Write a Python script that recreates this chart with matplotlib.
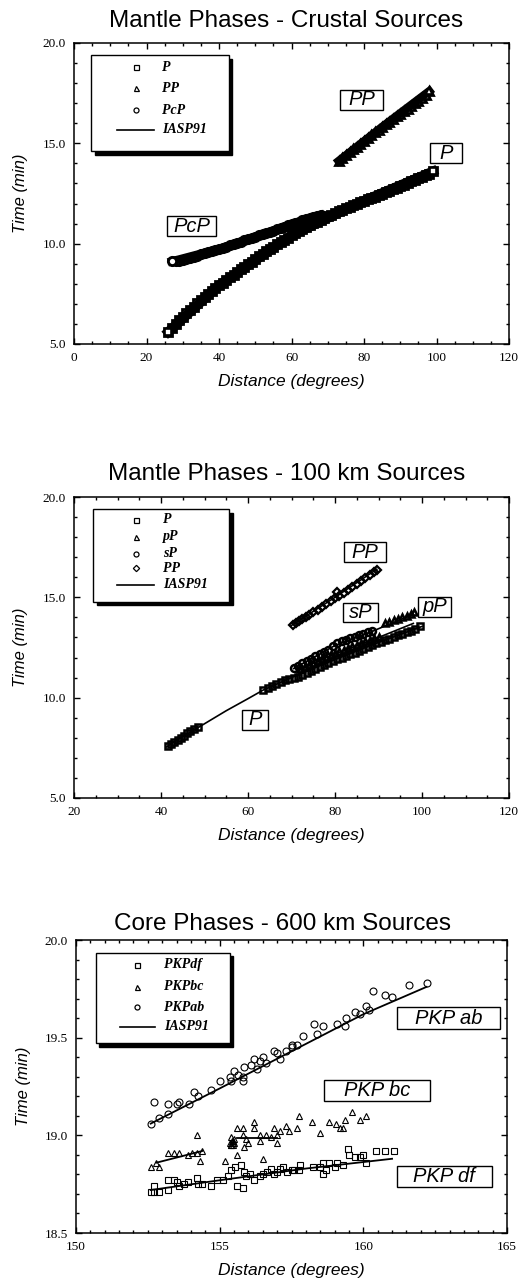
import matplotlib
matplotlib.use("Agg")
import matplotlib.pyplot as plt
import matplotlib.transforms as mtransforms
from matplotlib.patches import Rectangle
from matplotlib.path import Path
from matplotlib.ticker import MultipleLocator, FormatStrFormatter

# ---------------- Data ----------------
# Panel 1: Mantle phases - crustal sources
p1_P_x = list(range(26, 100))
p1_P_y = [5.60, 5.80, 6.00, 6.18, 6.35, 6.53, 6.70, 6.86, 7.02, 7.17,
          7.32, 7.47, 7.62, 7.77, 7.92, 8.06, 8.20, 8.33, 8.46, 8.59,
          8.72, 8.85, 8.98, 9.11, 9.25, 9.37, 9.49, 9.61, 9.73, 9.85,
          9.97, 10.08, 10.19, 10.30, 10.41, 10.51, 10.61, 10.71, 10.81, 10.91,
          11.01, 11.10, 11.19, 11.28, 11.37, 11.45, 11.53, 11.61, 11.69, 11.77,
          11.85, 11.93, 12.00, 12.07, 12.14, 12.21, 12.28, 12.35, 12.42, 12.49,
          12.56, 12.63, 12.70, 12.78, 12.86, 12.94, 13.02, 13.10, 13.17, 13.25,
          13.32, 13.40, 13.48, 13.62]
p1_PcP_x = list(range(27, 69))
p1_PcP_y = [9.12, 9.13, 9.15, 9.18, 9.23, 9.29, 9.35, 9.41, 9.47, 9.53,
            9.58, 9.63, 9.69, 9.74, 9.80, 9.85, 9.91, 9.97, 10.04, 10.10,
            10.16, 10.22, 10.29, 10.35, 10.41, 10.47, 10.53, 10.59, 10.65, 10.71,
            10.78, 10.84, 10.91, 10.97, 11.04, 11.10, 11.16, 11.22, 11.28, 11.33,
            11.38, 11.43]
p1_PP_x = list(range(73, 99))
p1_PP_y = [14.12, 14.27, 14.42, 14.56, 14.70, 14.84, 14.98, 15.12, 15.26, 15.40,
           15.54, 15.68, 15.82, 15.95, 16.08, 16.21, 16.34, 16.47, 16.60, 16.73,
           16.86, 16.99, 17.12, 17.25, 17.40, 17.60]
p1_iasp_P_x = [26, 40, 60, 80, 99]
p1_iasp_P_y = [5.60, 7.92, 10.41, 12.14, 13.60]
p1_iasp_PcP_x = [27, 40, 55, 68]
p1_iasp_PcP_y = [9.12, 9.74, 10.65, 11.43]
p1_iasp_PP_x = [73, 85, 98]
p1_iasp_PP_y = [14.12, 15.82, 17.60]
p1_labels = ["P", "PP", "PcP", "IASP91"]

# Panel 2: Mantle phases - 100 km sources
p2_P_x = [41.5, 42.3, 43.0, 43.8, 44.5, 45.2, 46.0, 46.7, 47.5, 48.6,
          63.5, 64.5, 65.5, 66.5, 67.5, 68.5, 69.5, 70.5, 71.5, 72.5,
          73.5, 74.5, 75.5, 76.5, 77.5, 78.5, 79.5, 80.5, 81.5, 82.5,
          83.5, 84.5, 85.5, 86.5, 87.5, 88.5, 89.5, 90.5, 91.5, 92.5,
          93.5, 94.5, 95.5, 96.5, 97.5, 98.5, 99.5]
p2_P_y = [7.58, 7.70, 7.80, 7.90, 8.00, 8.10, 8.22, 8.35, 8.42, 8.52,
          10.38, 10.48, 10.58, 10.68, 10.78, 10.86, 10.93, 11.00, 11.05, 11.14,
          11.24, 11.34, 11.43, 11.52, 11.62, 11.72, 11.82, 11.92, 12.00, 12.08,
          12.16, 12.25, 12.34, 12.44, 12.54, 12.62, 12.70, 12.78, 12.86, 12.94,
          13.02, 13.10, 13.18, 13.26, 13.34, 13.44, 13.55]
p2_pP_x = [72, 73, 74, 75, 76, 77, 78, 79, 80, 81, 82, 83, 84, 85, 86, 87, 88,
           89, 90, 91.5, 92.5, 93.5, 94.5, 95.5, 96.5, 97.5, 98.2]
p2_pP_y = [11.45, 11.55, 11.65, 11.75, 11.85, 11.95, 12.05, 12.14, 12.23, 12.32,
           12.40, 12.48, 12.56, 12.64, 12.72, 12.80, 12.88, 12.96, 13.04,
           13.70, 13.78, 13.86, 13.94, 14.00, 14.08, 14.15, 14.25]
p2_sP_x = [70.5, 71.5, 72.5, 73.5, 74.5, 75.5, 76.5, 77.5, 78.5, 79.5,
           80.5, 81.5, 82.5, 83.5, 84.5, 85.5, 86.5, 87.5, 88.5]
p2_sP_y = [11.50, 11.60, 11.72, 11.84, 11.95, 12.06, 12.17, 12.28, 12.40, 12.55,
           12.72, 12.80, 12.88, 12.96, 13.04, 13.10, 13.17, 13.26, 13.34]
p2_PP_x = [70.3, 71.0, 71.8, 72.5, 73.3, 74.0, 75.0, 76.0, 77.0, 78.0, 79.0,
           80.0, 80.5, 81.0, 82.0, 83.0, 84.0, 85.0, 86.0, 87.0, 88.0, 89.0, 89.6]
p2_PP_y = [13.62, 13.72, 13.82, 13.90, 14.00, 14.12, 14.27, 14.38, 14.52, 14.65,
           14.80, 14.95, 15.25, 15.08, 15.22, 15.38, 15.52, 15.65, 15.80, 15.95,
           16.10, 16.25, 16.38]
p2_iasp_P_x = [41.3, 45, 50, 55, 60, 63.5, 70, 80, 90, 100]
p2_iasp_P_y = [7.55, 8.05, 8.70, 9.35, 9.95, 10.38, 11.00, 11.90, 12.75, 13.55]
p2_iasp_sP_x = [70.5, 80, 88, 92, 98]
p2_iasp_sP_y = [11.45, 12.60, 13.25, 13.62, 14.15]
p2_iasp_pP_x = [72, 80, 90, 98]
p2_iasp_pP_y = [11.40, 12.18, 13.00, 13.70]
p2_iasp_PP_x = [70.0, 80.0, 89.6]
p2_iasp_PP_y = [13.60, 15.00, 16.40]
p2_labels = ["P", "pP", "sP", "PP", "IASP91"]

# Panel 3: Core phases - 600 km sources
p3_df_x = [152.6, 152.7, 152.9, 152.7, 153.2, 153.2, 153.4, 153.5, 153.6, 153.75,
           153.9, 154.2, 154.25, 154.4, 154.7, 154.9, 155.1, 155.3, 155.4, 155.55,
           155.6, 155.75, 155.8, 155.85, 155.9, 156.05, 156.2, 156.4, 156.5, 156.65,
           156.8, 156.9, 157.0, 157.1, 157.2, 157.35, 157.5, 157.6, 157.75, 157.8,
           158.25, 158.5, 158.6, 158.6, 158.7, 158.8, 159.0, 159.1, 159.3, 159.45,
           159.5, 159.7, 159.9, 160.0, 160.1, 160.45, 160.75, 161.05]
p3_df_y = [18.71, 18.71, 18.71, 18.74, 18.72, 18.77, 18.77, 18.76, 18.74, 18.75,
           18.76, 18.78, 18.75, 18.75, 18.74, 18.77, 18.77, 18.79, 18.82, 18.84,
           18.74, 18.85, 18.73, 18.81, 18.79, 18.80, 18.77, 18.79, 18.80, 18.81,
           18.83, 18.80, 18.81, 18.83, 18.84, 18.81, 18.82, 18.82, 18.82, 18.85,
           18.84, 18.84, 18.86, 18.80, 18.82, 18.86, 18.84, 18.86, 18.85, 18.93,
           18.90, 18.89, 18.89, 18.90, 18.86, 18.92, 18.92, 18.92]
p3_bc_x = [152.6, 152.8, 152.9, 153.2, 153.4, 153.6, 153.9, 154.05, 154.2, 154.4,
           154.3, 154.2, 155.2, 155.35, 155.4, 155.45, 155.45, 155.5, 155.5, 155.6,
           155.8, 155.6, 155.85, 155.8, 155.9, 156.0, 156.2, 156.2, 156.4, 156.4,
           156.6, 156.8, 156.5, 156.9, 157.0, 157.0, 157.1, 157.3, 157.4, 157.7,
           157.75, 158.2, 158.5, 158.8, 159.05, 159.2, 159.3, 159.35, 159.6, 159.9,
           160.1, 155.38, 155.42, 155.48, 155.4]
p3_bc_y = [18.84, 18.86, 18.84, 18.91, 18.91, 18.91, 18.90, 18.91, 18.91, 18.92,
           18.87, 19.00, 18.87, 18.96, 18.95, 18.97, 18.95, 18.96, 18.98, 19.04,
           19.04, 18.90, 18.94, 19.00, 18.98, 18.96, 19.04, 19.07, 19.00, 18.97,
           19.00, 18.99, 18.88, 19.04, 19.00, 18.96, 19.02, 19.05, 19.02, 19.04,
           19.10, 19.07, 19.01, 19.07, 19.06, 19.04, 19.04, 19.08, 19.12, 19.08,
           19.10, 18.95, 18.97, 18.96, 18.99]
p3_ab_x = [152.6, 152.7, 152.9, 153.2, 153.2, 153.5, 153.6, 153.95, 154.1, 154.25,
           154.7, 155.0, 155.35, 155.4, 155.5, 155.65, 155.8, 155.8, 155.85, 156.1,
           156.2, 156.3, 156.4, 156.5, 156.6, 156.9, 157.0, 157.1, 157.3, 157.5,
           157.5, 157.7, 157.9, 158.3, 158.4, 158.6, 159.1, 159.35, 159.4, 159.7,
           159.9, 160.1, 160.2, 160.35, 160.76, 161.0, 161.6, 162.2]
p3_ab_y = [19.06, 19.17, 19.09, 19.11, 19.16, 19.16, 19.17, 19.16, 19.22, 19.20,
           19.23, 19.28, 19.30, 19.28, 19.33, 19.31, 19.30, 19.28, 19.35, 19.36,
           19.39, 19.34, 19.38, 19.40, 19.37, 19.43, 19.42, 19.39, 19.43, 19.45,
           19.46, 19.46, 19.51, 19.57, 19.52, 19.56, 19.57, 19.56, 19.60, 19.63,
           19.62, 19.66, 19.64, 19.74, 19.72, 19.71, 19.77, 19.78]
p3_iasp_ab_x = [152.6, 155.0, 157.5, 160.0, 162.2]
p3_iasp_ab_y = [19.06, 19.24, 19.43, 19.62, 19.76]
p3_iasp_bc_x = [152.8, 154.4]
p3_iasp_bc_y = [18.86, 18.92]
p3_iasp_bc2_x = [155.6, 157.0]
p3_iasp_bc2_y = [18.985, 18.985]
p3_iasp_df_x = [152.6, 155.0, 158.0, 161.0]
p3_iasp_df_y = [18.72, 18.77, 18.83, 18.88]
p3_labels = ["PKPdf", "PKPbc", "PKPab", "IASP91"]

titles = ["Mantle Phases - Crustal Sources", "Mantle Phases - 100 km Sources",
          "Core Phases - 600 km Sources"]

# ---------------- Style ----------------
SANS = "Liberation Sans"
SERIF = "Liberation Serif"
plt.rcParams["font.family"] = [SANS, "DejaVu Sans"]

fig = plt.figure(figsize=(5.21, 12.83), dpi=100)
W, H = 521.0, 1283.0


def add_axes(l, t, r, b):
    return fig.add_axes([l / W, 1 - b / H, (r - l) / W, (b - t) / H])


ax1 = add_axes(74, 43, 509, 344)
ax2 = add_axes(74, 497, 509, 798)
ax3 = add_axes(76, 940, 507, 1233)


def style_axis(ax, xlim, ylim, xmaj, xmin, ymaj, ymin, yfmt, title, tx, tpad):
    ax.set_xlim(*xlim)
    ax.set_ylim(*ylim)
    ax.xaxis.set_major_locator(MultipleLocator(xmaj))
    ax.xaxis.set_minor_locator(MultipleLocator(xmin))
    ax.yaxis.set_major_locator(MultipleLocator(ymaj))
    ax.yaxis.set_minor_locator(MultipleLocator(ymin))
    ax.yaxis.set_major_formatter(FormatStrFormatter(yfmt))
    ax.xaxis.set_major_formatter(FormatStrFormatter("%d"))
    ax.tick_params(which="both", direction="in", top=True, right=True, width=1.0)
    ax.tick_params(which="major", length=4.5, pad=6)
    ax.tick_params(which="minor", length=2.3)
    for lab in ax.get_xticklabels() + ax.get_yticklabels():
        lab.set_fontfamily(SERIF)
        lab.set_fontsize(9.5)
    for sp in ax.spines.values():
        sp.set_linewidth(1.1)
    ax.set_xlabel("Distance (degrees)", fontsize=12.5, style="italic", labelpad=7)
    ax.set_ylabel("Time (min)", fontsize=12, style="italic", labelpad=10)
    ax.set_title(title, fontsize=17.5, x=tx, pad=tpad)


style_axis(ax1, (0, 120), (5, 20), 20, 5, 5, 1, "%.1f", titles[0], 0.487, 11.5)
style_axis(ax2, (20, 120), (5, 20), 20, 5, 5, 1, "%.1f", titles[1], 0.489, 12.0)
style_axis(ax3, (150, 165), (18.5, 20), 5, 0.5, 0.5, 0.1, "%.1f", titles[2], 0.478, 7.0)

mk = dict(color="black", linestyle="none", markerfacecolor="none")

# Panel 1 (dense bands of overlapping open markers)
ax1.plot(p1_iasp_P_x, p1_iasp_P_y, color="black", lw=7, zorder=1)
ax1.plot(p1_iasp_PcP_x, p1_iasp_PcP_y, color="black", lw=6, zorder=1)
ax1.plot(p1_iasp_PP_x, p1_iasp_PP_y, color="black", lw=6, zorder=1)
ax1.plot(p1_P_x, p1_P_y, marker="s", ms=6.3, mew=2.0, zorder=2, **mk)
ax1.plot(p1_PcP_x, p1_PcP_y, marker="o", ms=6.0, mew=2.0, zorder=2, **mk)
ax1.plot(p1_PP_x, p1_PP_y, marker="^", ms=6.0, mew=2.0, zorder=2, **mk)
# white-filled end markers as in the original
ax1.plot([p1_P_x[0], p1_P_x[-1]], [p1_P_y[0], p1_P_y[-1]], marker="s", ms=5,
         mew=1.2, color="black", markerfacecolor="white", linestyle="none", zorder=3)
ax1.plot([p1_PcP_x[0]], [p1_PcP_y[0]], marker="o", ms=5, mew=1.2, color="black",
         markerfacecolor="white", linestyle="none", zorder=3)
ax1.plot([p1_PP_x[-1]], [p1_PP_y[-1]], marker="^", ms=5, mew=1.2, color="black",
         markerfacecolor="white", linestyle="none", zorder=3)

# Panel 2
ax2.plot(p2_iasp_P_x, p2_iasp_P_y, color="black", lw=1.2, zorder=3)
ax2.plot(p2_iasp_sP_x, p2_iasp_sP_y, color="black", lw=1.2, zorder=3)
ax2.plot(p2_iasp_pP_x, p2_iasp_pP_y, color="black", lw=1.2, zorder=3)
ax2.plot(p2_iasp_PP_x, p2_iasp_PP_y, color="black", lw=1.2, zorder=3)
ax2.plot(p2_P_x, p2_P_y, marker="s", ms=5.0, mew=1.8, zorder=2, **mk)
ax2.plot(p2_pP_x, p2_pP_y, marker="^", ms=5.0, mew=1.8, zorder=2, **mk)
ax2.plot(p2_sP_x, p2_sP_y, marker="o", ms=5.0, mew=1.8, zorder=2, **mk)
ax2.plot(p2_PP_x, p2_PP_y, marker="D", ms=4.0, mew=1.6, zorder=2, **mk)

# Panel 3
ax3.plot(p3_iasp_ab_x, p3_iasp_ab_y, color="black", lw=1.3, zorder=3)
ax3.plot(p3_iasp_bc_x, p3_iasp_bc_y, color="black", lw=1.3, zorder=3)
ax3.plot(p3_iasp_bc2_x, p3_iasp_bc2_y, color="black", lw=1.3, zorder=3)
ax3.plot(p3_iasp_df_x, p3_iasp_df_y, color="black", lw=1.3, zorder=3)
ax3.plot(p3_df_x, p3_df_y, marker="s", ms=4.6, mew=0.8, zorder=2, **mk)
ax3.plot(p3_bc_x, p3_bc_y, marker="^", ms=4.6, mew=0.8, zorder=2, **mk)
ax3.plot(p3_ab_x, p3_ab_y, marker="o", ms=5.0, mew=0.8, zorder=2, **mk)


# ---------------- Legends (boxed with drop shadow) ----------------
def draw_legend(ax, box, rows, labels, markers, mx, lx, tx):
    x0, x1, yb, yt = box
    shadow_tr = mtransforms.offset_copy(ax.transAxes, fig=fig, x=3.5, y=-3.5, units="dots")
    ax.add_patch(Rectangle((x0, yb), x1 - x0, yt - yb, transform=shadow_tr,
                           facecolor="black", edgecolor="black", zorder=8, clip_on=False))
    ax.add_patch(Rectangle((x0, yb), x1 - x0, yt - yb, transform=ax.transAxes,
                           facecolor="white", edgecolor="black", lw=1.0, zorder=9,
                           clip_on=False))
    for y, lab, m in zip(rows, labels, markers):
        if m is None:
            ax.plot(lx, [y, y], color="black", lw=1.2, transform=ax.transAxes,
                    zorder=10, clip_on=False)
        else:
            ax.plot([mx], [y], marker=m, ms=3.6 if m != "D" else 3.2, mew=0.9,
                    color="black", markerfacecolor="white", linestyle="none",
                    transform=ax.transAxes, zorder=10, clip_on=False)
        ax.text(tx, y, lab, transform=ax.transAxes, fontfamily=SERIF,
                fontweight="bold", style="italic", fontsize=10, va="center",
                ha="left", zorder=10)


draw_legend(ax1, (0.040, 0.356, 0.641, 0.960), [0.920, 0.850, 0.777, 0.711],
            p1_labels, ["s", "^", "o", None], 0.142, [0.099, 0.184], 0.202)
draw_legend(ax2, (0.044, 0.357, 0.652, 0.959), [0.924, 0.868, 0.811, 0.763, 0.708],
            p2_labels, ["s", "^", "o", "D", None], 0.1425, [0.0996, 0.184], 0.205)
draw_legend(ax3, (0.046, 0.357, 0.647, 0.957), [0.915, 0.841, 0.770, 0.704],
            p3_labels, ["s", "^", "o", None], 0.141, [0.102, 0.183], 0.205)


# ---------------- Phase label boxes ----------------
def box_factory(hpad, vpad):
    def _box(x0, y0, width, height, mutation_size):
        hp = hpad * mutation_size
        vp = vpad * mutation_size
        x0 -= hp
        y0 -= vp
        w = width + 2 * hp
        h = height + 2 * vp
        return Path([(x0, y0), (x0 + w, y0), (x0 + w, y0 + h), (x0, y0 + h), (x0, y0)],
                    closed=True)
    return _box


def phase_label(ax, x, y, s, hpad, vpad=0.02, size=14.5):
    ax.text(x, y, s, fontsize=size, style="italic", ha="center", va="center",
            zorder=6, bbox=dict(boxstyle=box_factory(hpad, vpad), facecolor="white",
                                edgecolor="black", lw=1.0))


phase_label(ax1, 79.4, 17.16, "PP", 0.40)
phase_label(ax1, 102.6, 14.50, "P", 0.45)
phase_label(ax1, 32.4, 10.87, "PcP", 0.30)

phase_label(ax2, 86.9, 17.25, "PP", 0.40)
phase_label(ax2, 85.9, 14.24, "sP", 0.28)
phase_label(ax2, 102.9, 14.53, "pP", 0.22)
phase_label(ax2, 61.6, 8.90, "P", 0.33)

phase_label(ax3, 162.97, 19.60, "PKP ab", 0.88, 0.06)
phase_label(ax3, 160.48, 19.23, "PKP bc", 1.0, 0.06)
phase_label(ax3, 162.81, 18.79, "PKP df", 0.82, 0.06)

fig.savefig("out.png", dpi=100)
